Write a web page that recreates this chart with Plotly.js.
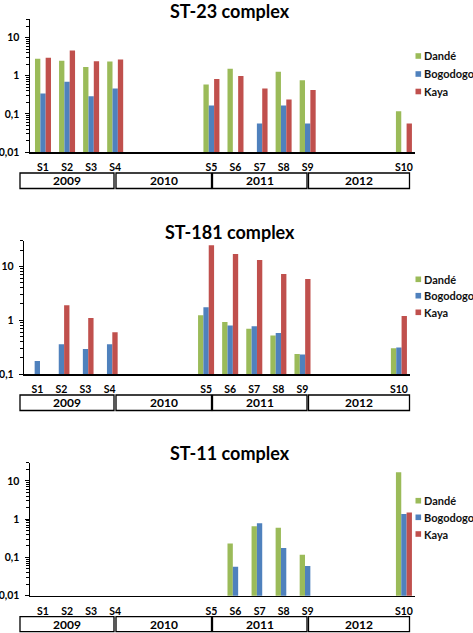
<!DOCTYPE html>
<html>
<head>
<meta charset="utf-8">
<script src="https://cdn.plot.ly/plotly-3.0.1.min.js"></script>
<style>html,body{margin:0;padding:0;background:#fff;}#chart{width:473px;height:633px;}</style>
</head>
<body>
<div id="chart"></div>
<script>
// ---- data ----
const samples = ['S1','S2','S3','S4','S5','S6','S7','S8','S9','S10'];
const sites = ['Dandé','Bogodogo','Kaya'];
const years = ['2009','2010','2011','2012'];
const panelTitles = ['ST-23 complex','ST-181 complex','ST-11 complex'];

const st23_dande    = [2.8, 2.48, 1.69, 2.35, 0.59, 1.53, null, 1.28, 0.76, 0.117];
const st23_bogodogo = [0.34, 0.70, 0.29, 0.46, 0.166, null, 0.056, 0.166, 0.056, null];
const st23_kaya     = [2.97, 4.6, 2.38, 2.68, 0.82, 0.98, 0.46, 0.238, 0.42, 0.056];

const st181_dande    = [null, null, null, null, 1.23, 0.93, 0.69, 0.52, 0.235, 0.30];
const st181_bogodogo = [0.175, 0.356, 0.29, 0.356, 1.74, 0.80, 0.77, 0.58, 0.23, 0.31];
const st181_kaya     = [null, 1.89, 1.10, 0.60, 24.7, 17.0, 13.2, 7.2, 5.8, 1.20];

const st11_dande    = [null, null, null, null, null, 0.233, 0.65, 0.60, 0.117, 17];
const st11_bogodogo = [null, null, null, null, null, 0.057, 0.78, 0.176, 0.06, 1.36];
const st11_kaya     = [null, null, null, null, null, null, null, null, null, 1.5];

// ---- layout helpers (positions / styles) ----
const W = 473, H = 633;
const slot = [0,1,2,3,7,8,9,10,11,15];           // time position of each sample
const colors = ['#9BBB59','#4F81BD','#C0504D'];
const FONT = 'Lato, "Open Sans", sans-serif';
const px = v => v / W;
const py = v => 1 - v / H;

const panels = [
  {series:[st23_dande, st23_bogodogo, st23_kaya], xdom:[30,415], ydom:[19.4,152], ymin:-2,
   ticks:[10,1,0.1,0.01], tickText:['10','1','0,1','0,01'], titleY:10.5,
   legX:415.5, legTxt:422, legY:[56,74,91.5], boxTop:173, boxBot:188.5},
  {series:[st181_dande, st181_bogodogo, st181_kaya], xdom:[24.3,410], ydom:[240.7,374], ymin:-1,
   ticks:[10,1,0.1], tickText:['10','1','0,1'], titleY:231.5,
   legX:415.5, legTxt:422, legY:[279.3,295.7,312.3], boxTop:395, boxBot:410.5},
  {series:[st11_dande, st11_bogodogo, st11_kaya], xdom:[30,415], ydom:[462.7,595.7], ymin:-2,
   ticks:[10,1,0.1,0.01], tickText:['10','1','0,1','0,01'], titleY:452.5,
   legX:415.5, legTxt:422, legY:[500.7,517.3,534], boxTop:616.7, boxBot:631.7}
];
const yearBoxes = [[20,114],[116,211.5],[212.5,307],[308.5,409.5]];
const xr = [-0.54, 15.46];
const ymax = Math.log10(30);

const minorVals = [];
for (let e = -3; e <= 2; e++) for (let d = 2; d <= 9; d++) minorVals.push(d * Math.pow(10, e));

const data = [];
const layout = {
  width: W, height: H, autosize: false,
  margin: {l:0, r:0, t:0, b:0},
  paper_bgcolor: '#fff', plot_bgcolor: '#fff',
  barmode: 'group', bargap: 0.335, bargroupgap: 0,
  showlegend: false,
  font: {family: FONT, color: '#000'},
  shapes: [], annotations: []
};

panels.forEach((p, i) => {
  const n = i === 0 ? '' : String(i + 1);
  const xa = 'x' + n, ya = 'y' + n;
  p.series.forEach((vals, s) => {
    data.push({
      type: 'bar', name: sites[s], x: slot, y: vals,
      xaxis: xa, yaxis: ya,
      marker: {color: colors[s]},
      hoverinfo: 'skip'
    });
  });
  layout['xaxis' + n] = {
    domain: [px(p.xdom[0]), px(p.xdom[1])], anchor: ya,
    range: xr, showgrid: false, zeroline: false,
    showline: true, linecolor: '#000', linewidth: 1.5,
    tickmode: 'array', tickvals: slot, ticktext: samples,
    ticks: '', ticklabelstandoff: 5,
    tickfont: {family: FONT, size: 10.5, color: '#000', weight: 'bold'}
  };
  layout['yaxis' + n] = {
    domain: [py(p.ydom[1]), py(p.ydom[0])], anchor: xa,
    type: 'log', range: [p.ymin, ymax],
    showgrid: false, zeroline: false,
    showline: true, linecolor: '#000', linewidth: 1.5,
    tickmode: 'array', tickvals: p.ticks, ticktext: p.tickText,
    ticks: 'outside', ticklen: 4, tickwidth: 1, tickcolor: '#000',
    ticklabelstandoff: 3,
    minor: {tickmode: 'array', tickvals: minorVals, ticks: 'outside', ticklen: 2.5, tickwidth: 1, tickcolor: '#000', showgrid: false},
    tickfont: {family: FONT, size: 10.5, color: '#000', weight: 'bold'}
  };
  // title
  layout.annotations.push({
    xref: 'paper', yref: 'paper', x: px(229.5), y: py(p.titleY),
    xanchor: 'center', yanchor: 'middle', showarrow: false,
    text: '<b>' + panelTitles[i] + '</b>',
    font: {family: FONT, size: 18, color: '#000'}
  });
  // legend
  sites.forEach((name, s) => {
    layout.shapes.push({
      type: 'rect', xref: 'paper', yref: 'paper',
      x0: px(p.legX), x1: px(p.legX + 5.6),
      y0: py(p.legY[s] + 2.8), y1: py(p.legY[s] - 2.8),
      fillcolor: colors[s], line: {width: 0}
    });
    layout.annotations.push({
      xref: 'paper', yref: 'paper', x: px(p.legTxt), y: py(p.legY[s]),
      xanchor: 'left', yanchor: 'middle', showarrow: false,
      text: '<b>' + name + '</b>',
      font: {family: FONT, size: 11, color: '#111'}
    });
  });
  // year boxes
  yearBoxes.forEach((b, k) => {
    layout.shapes.push({
      type: 'rect', xref: 'paper', yref: 'paper',
      x0: px(b[0]), x1: px(b[1]), y0: py(p.boxBot), y1: py(p.boxTop),
      line: {color: '#000', width: 1.3}, fillcolor: 'rgba(0,0,0,0)'
    });
    layout.annotations.push({
      xref: 'paper', yref: 'paper', x: px((b[0] + b[1]) / 2), y: py((p.boxTop + p.boxBot) / 2),
      xanchor: 'center', yanchor: 'middle', showarrow: false,
      text: '<b>' + years[k] + '</b>',
      font: {family: FONT, size: 12, color: '#000'}
    });
  });
});

Plotly.newPlot('chart', data, layout, {staticPlot: true, displayModeBar: false});
</script>
</body>
</html>
